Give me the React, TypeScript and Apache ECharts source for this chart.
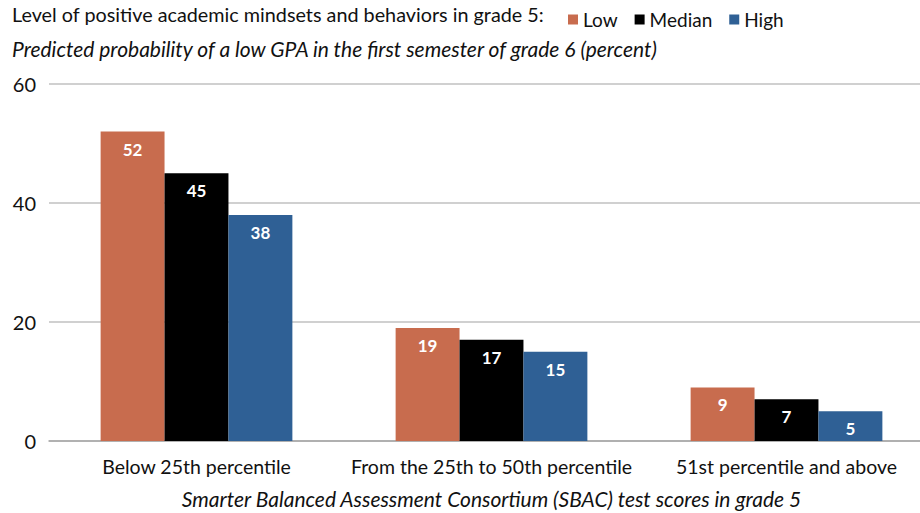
import React, { useEffect, useRef } from "react";
import * as echarts from "echarts";

const categories = ["Below 25th percentile", "From the 25th to 50th percentile", "51st percentile and above"];
const lowValues = [52, 19, 9];
const medianValues = [45, 17, 7];
const highValues = [38, 15, 5];
const yTicks = [0, 20, 40, 60];

const FONT = "Lato, 'Open Sans', sans-serif";

export default function App() {
  const ref = useRef<HTMLDivElement>(null);
  useEffect(() => {
    if (!ref.current) return;
    const chart = echarts.init(ref.current, null, { renderer: "svg" });
    const label = {
      show: true,
      position: "insideTop",
      distance: 9,
      color: "#ffffff",
      fontWeight: "bold",
      fontSize: 17,
      fontFamily: FONT,
    };
    chart.setOption({
      animation: false,
      textStyle: { fontFamily: FONT },
      graphic: [
        {
          type: "text",
          left: 12,
          top: 4,
          style: {
            text: "Level of positive academic mindsets and behaviors in grade 5:",
            fontSize: 19.8,
            fontFamily: FONT,
            fill: "#111",
          },
        },
        {
          type: "text",
          left: 12,
          top: 38,
          style: {
            text: "Predicted probability of a low GPA in the first semester of grade 6 (percent)",
            fontSize: 21,
            fontStyle: "italic",
            fontFamily: FONT,
            fill: "#111",
          },
        },
      ],
      legend: {
        left: 563,
        top: 5,
        icon: "rect",
        itemWidth: 10,
        itemHeight: 10,
        itemGap: 17,
        textStyle: { fontSize: 19, fontFamily: FONT, color: "#111" },
        data: ["Low", "Median", "High"],
      },
      grid: { left: 49, top: 84, width: 885, height: 357, containLabel: false, outerBoundsMode: "none" },
      xAxis: {
        type: "category",
        data: categories,
        axisTick: { show: false },
        axisLine: { lineStyle: { color: "#a6a6a6", width: 1.5 } },
        axisLabel: { fontSize: 19.5, color: "#111", margin: 15, interval: 0, fontFamily: FONT },
        name: "Smarter Balanced Assessment Consortium (SBAC) test scores in grade 5",
        nameLocation: "middle",
        nameGap: 47,
        nameTextStyle: { fontSize: 21, fontStyle: "italic", color: "#111", fontFamily: FONT },
      },
      yAxis: {
        type: "value",
        min: yTicks[0],
        max: yTicks[yTicks.length - 1],
        interval: 20,
        axisLabel: { fontSize: 20, color: "#111", margin: 13, fontFamily: FONT },
        splitLine: { lineStyle: { color: "#c0c0c0", width: 1.5 } },
        axisLine: { show: false },
        axisTick: { show: false },
      },
      series: [
        { name: "Low", type: "bar", data: lowValues, itemStyle: { color: "#C86C4E" }, barGap: "0%", barCategoryGap: "35%", label },
        { name: "Median", type: "bar", data: medianValues, itemStyle: { color: "#000000" }, label },
        { name: "High", type: "bar", data: highValues, itemStyle: { color: "#2F6095" }, label },
      ],
    });
    return () => chart.dispose();
  }, []);
  return <div ref={ref} style={{ width: 920, height: 513, position: "absolute", left: 0, top: 0 }} />;
}
